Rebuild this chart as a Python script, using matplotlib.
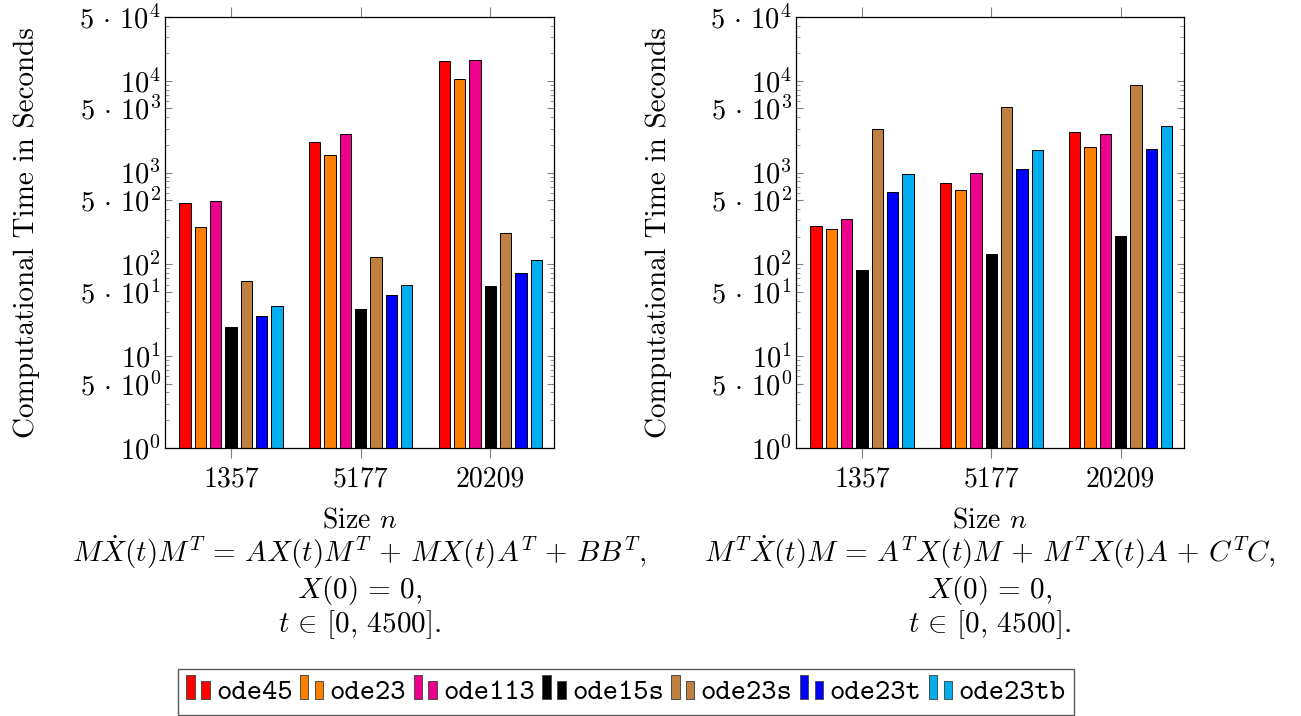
import matplotlib
matplotlib.use("Agg")
import matplotlib.pyplot as plt
import numpy as np
from matplotlib.legend_handler import HandlerBase
from matplotlib.patches import Patch, Rectangle
from matplotlib.ticker import FixedLocator, LogLocator, NullFormatter

plt.rcParams["font.family"] = "cmr10"
plt.rcParams["mathtext.fontset"] = "cm"
plt.rcParams["axes.unicode_minus"] = False

sizes = ["1357", "5177", "20209"]
solvers = ["ode45", "ode23", "ode113", "ode15s", "ode23s", "ode23t", "ode23tb"]
colors = ["#ff0000", "#ff8000", "#ec008c", "#000000", "#bf8040", "#0000ff", "#00adef"]

# seconds per solver, one entry per size n (1357, 5177, 20209)
left_times = {
    "ode45": [466, 2140, 16500],
    "ode23": [255, 1545, 10500],
    "ode113": [487, 2655, 16900],
    "ode15s": [20.6, 32.8, 58],
    "ode23s": [65, 119, 220],
    "ode23t": [27.3, 46.6, 81],
    "ode23tb": [34.8, 59, 112],
}
right_times = {
    "ode45": [264, 764, 2790],
    "ode23": [241, 651, 1900],
    "ode113": [310, 982, 2655],
    "ode15s": [87, 129, 204],
    "ode23s": [2966, 5230, 9100],
    "ode23t": [619, 1086, 1808],
    "ode23tb": [973, 1750, 3220],
}

ytick_vals = [1, 5, 10, 50, 100, 500, 1000, 5000, 10000, 50000]
ytick_labels = [r"$10^{0}$", r"$5\,\cdot\,10^{0}$", r"$10^{1}$", r"$5\,\cdot\,10^{1}$",
                r"$10^{2}$", r"$5\,\cdot\,10^{2}$", r"$10^{3}$", r"$5\,\cdot\,10^{3}$",
                r"$10^{4}$", r"$5\,\cdot\,10^{4}$"]

xlabel = r"Size $n$"
# TeX puts a bit more room around = and + than mathtext does
left_eq = [r"$M\dot{X}(t)M^T\,=\,AX(t)M^T\,+\,MX(t)A^T\,+\,BB^T,$",
           r"$X(0)\,=\,0,$",
           r"$t\,\in\,[0,\,4500].$"]
right_eq = [r"$M^T\dot{X}(t)M\,=\,A^TX(t)M\,+\,M^TX(t)A\,+\,C^TC,$",
            r"$X(0)\,=\,0,$",
            r"$t\,\in\,[0,\,4500].$"]


class TwoBarHandler(HandlerBase):
    # pgfplots style ybar legend image: a tall and a short bar
    def create_artists(self, legend, orig_handle, xdescent, ydescent,
                       width, height, fontsize, trans):
        fc = orig_handle.get_facecolor()
        w = width * 0.36
        r1 = Rectangle((-xdescent, 0), w, fontsize * 0.82, facecolor=fc,
                       edgecolor="0.3", linewidth=0.7, transform=trans)
        r2 = Rectangle((-xdescent + width - w, 0), w, fontsize * 0.64, facecolor=fc,
                       edgecolor="0.3", linewidth=0.7, transform=trans)
        return [r1, r2]


def draw_panel(ax, times):
    x = np.arange(len(sizes))
    step = 0.1183
    width = 0.0873
    for i, name in enumerate(solvers):
        ax.bar(x + (i - 3) * step, times[name], width, color=colors[i],
               edgecolor="black", linewidth=0.7, log=True, zorder=2)

    ax.set_yscale("log")
    ax.set_ylim(1, 5e4)
    ax.set_xlim(-0.51, 2.49)
    ax.yaxis.set_major_locator(FixedLocator(ytick_vals))
    ax.set_yticklabels(ytick_labels)
    ax.yaxis.set_minor_locator(LogLocator(base=10, subs=[2, 3, 4, 6, 7, 8, 9]))
    ax.yaxis.set_minor_formatter(NullFormatter())
    ax.set_xticks(x)
    ax.set_xticklabels(sizes)

    ax.tick_params(axis="y", which="major", direction="in", left=True, right=True,
                   length=5, width=0.8, color="0.5", labelsize=20.5, pad=3)
    ax.tick_params(axis="y", which="minor", direction="in", left=True, right=True,
                   length=3, width=0.6, color="0.5")
    ax.tick_params(axis="x", which="major", direction="out", top=True, bottom=True,
                   length=7.5, width=0.8, color="0.5", labelsize=20, pad=6)
    for s in ax.spines.values():
        s.set_linewidth(0.9)
        s.set_color("black")

    ax.text(-0.355, 0.5, "Computational Time in Seconds", transform=ax.transAxes,
            rotation=90, ha="center", va="center", fontsize=21)


W, H = 1301, 716
fig = plt.figure(figsize=(W / 100, H / 100), dpi=100)
ax1 = fig.add_axes([165 / W, 1 - 447.7 / H, 389 / W, 431 / H])
ax2 = fig.add_axes([796 / W, 1 - 447.7 / H, 388 / W, 431 / H])

draw_panel(ax1, left_times)
draw_panel(ax2, right_times)

baselines = [562, 598, 632]
for cx, lines in [(359.5, left_eq), (990, right_eq)]:
    fig.text(cx / W, 1 - 527 / H, xlabel, ha="center", va="baseline", fontsize=20)
    for yb, line in zip(baselines, lines):
        fig.text(cx / W, 1 - yb / H, line, ha="center", va="baseline", fontsize=21)

handles = [Patch(facecolor=c, label=s) for s, c in zip(solvers, colors)]
fig.legend(handles=handles, loc="center", bbox_to_anchor=(626 / W, 1 - 692 / H),
           ncol=7, prop={"family": "cmtt10", "size": 21},
           handler_map={Patch: TwoBarHandler()}, handlelength=0.8, handleheight=0.85,
           handletextpad=0.22, columnspacing=0.25, borderpad=0.3,
           fancybox=False, framealpha=1, edgecolor="0.35")

fig.savefig("out.png", dpi=100)
